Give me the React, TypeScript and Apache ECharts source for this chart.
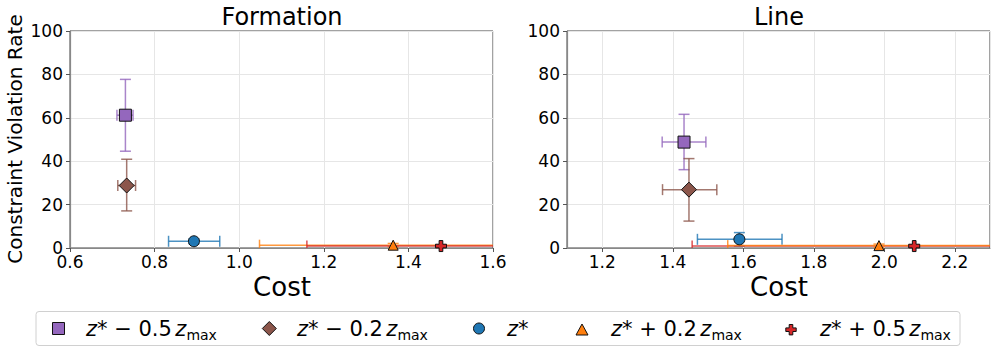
import React, { useEffect, useRef } from "react";
import * as echarts from "echarts";

// ---- data ----
const groupNames = ["z* − 0.5 zmax", "z* − 0.2 zmax", "z*", "z* + 0.2 zmax", "z* + 0.5 zmax"];
const groupColors = ["#9467bd", "#8c564b", "#1f77b4", "#ff7f0e", "#d62728"];
const panelTitles = ["Formation", "Line"];
const yTicks = [0, 20, 40, 60, 80, 100];

// Formation panel
const formationCost = [0.731, 0.734, 0.893, 1.364, 1.477];
const formationRate = [61.2, 28.8, 3.1, 1.3, 0.9];
const formationCostLow = [0.711, 0.713, 0.833, 1.048, 1.16];
const formationCostHigh = [0.749, 0.755, 0.954, 1.68, 1.794];
const formationRateLow = [44.6, 17.1, 2.0, 0.5, 0.3];
const formationRateHigh = [77.7, 40.9, 4.2, 2.1, 1.5];

// Line panel
const lineCost = [1.432, 1.446, 1.589, 1.985, 2.085];
const lineRate = [48.8, 26.9, 4.0, 1.1, 0.9];
const lineCostLow = [1.37, 1.371, 1.47, 1.556, 1.455];
const lineCostHigh = [1.494, 1.525, 1.71, 2.414, 2.715];
const lineRateLow = [36.1, 12.4, 0.9, 0.4, 0.3];
const lineRateHigh = [61.6, 41.2, 7.1, 1.8, 1.5];

const FONT = "DejaVu Sans";
const PLUS = "path://M-1,-3L1,-3L1,-1L3,-1L3,1L1,1L1,3L-1,3L-1,1L-3,1L-3,-1L-1,-1Z";
const symbols = ["rect", "diamond", "circle", "triangle", PLUS];
const symbolSizes = [12, 15, 11, 10, 11];

function errData(x: number[], y: number[], xl: number[], xh: number[], yl: number[], yh: number[], order: number[]) {
  return order.map((i) => [x[i], y[i], xl[i], xh[i], yl[i], yh[i], i]);
}

function renderErr(params: any, api: any) {
  const x = api.value(0), y = api.value(1);
  const xl = api.value(2), xh = api.value(3), yl = api.value(4), yh = api.value(5);
  const idx = api.value(6);
  const pL = api.coord([xl, y]);
  const pR = api.coord([xh, y]);
  const pB = api.coord([x, yl]);
  const pT = api.coord([x, yh]);
  const cap = 5.5;
  const style = { stroke: groupColors[idx], lineWidth: 1.5, opacity: 0.8 };
  const line = (x1: number, y1: number, x2: number, y2: number) => ({
    type: "line",
    shape: { x1, y1, x2, y2 },
    style,
  });
  return {
    type: "group",
    children: [
      line(pL[0], pL[1], pR[0], pR[1]),
      line(pL[0], pL[1] - cap, pL[0], pL[1] + cap),
      line(pR[0], pR[1] - cap, pR[0], pR[1] + cap),
      line(pB[0], pB[1], pT[0], pT[1]),
      line(pB[0] - cap, pB[1], pB[0] + cap, pB[1]),
      line(pT[0] - cap, pT[1], pT[0] + cap, pT[1]),
    ],
  };
}

function xAxisCfg(gridIndex: number, min: number, max: number, hideEnds: boolean) {
  return {
    type: "value",
    gridIndex,
    min,
    max,
    splitNumber: 5,
    axisLine: { show: true, onZero: false, lineStyle: { color: "#888", width: 1.2 } },
    axisTick: { show: true, length: 4, lineStyle: { color: "#555" } },
    axisLabel: {
      fontSize: 17,
      fontFamily: FONT,
      color: "#000",
      margin: 5,
      showMinLabel: !hideEnds,
      showMaxLabel: !hideEnds,
      formatter: (v: number) => v.toFixed(1),
    },
    splitLine: { show: true, lineStyle: { color: "#e6e6e6", width: 1 } },
  };
}

function yAxisCfg(gridIndex: number) {
  return {
    type: "value",
    gridIndex,
    min: yTicks[0],
    max: yTicks[yTicks.length - 1],
    interval: yTicks[1] - yTicks[0],
    axisLine: { show: true, onZero: false, lineStyle: { color: "#888", width: 1.2 } },
    axisTick: { show: true, length: 4, lineStyle: { color: "#555" } },
    axisLabel: { fontSize: 17, fontFamily: FONT, color: "#000", margin: 7 },
    splitLine: { show: true, lineStyle: { color: "#e6e6e6", width: 1 } },
  };
}

const legendRich = {
  i: { fontFamily: FONT, fontStyle: "italic", fontSize: 21, lineHeight: 26, verticalAlign: "middle", fill: "#000" },
  n: { fontFamily: FONT, fontSize: 21, lineHeight: 26, verticalAlign: "middle", fill: "#000" },
  t: { fontFamily: FONT, fontSize: 11, lineHeight: 26, verticalAlign: "middle", fill: "#000" },
  s: { fontFamily: FONT, fontSize: 14, lineHeight: 14, verticalAlign: "bottom", fill: "#000" },
};

function legendText(name: string) {
  if (name === "z*") return "{i|z}{n|*}";
  const m = name.match(/^z\* (.) (\S+) zmax$/);
  if (!m) return "{n|" + name + "}";
  return "{i|z}{n|* " + m[1] + " " + m[2] + "}{t| }{i|z}{s|max}";
}

export default function App() {
  const ref = useRef<HTMLDivElement>(null);
  useEffect(() => {
    if (!ref.current) return;
    const chart = echarts.init(ref.current, undefined, { renderer: "svg" });

    const series: any[] = [];
    const panels = [
      { x: formationCost, y: formationRate, xl: formationCostLow, xh: formationCostHigh, yl: formationRateLow, yh: formationRateHigh, order: [0, 1, 2, 3, 4] },
      { x: lineCost, y: lineRate, xl: lineCostLow, xh: lineCostHigh, yl: lineRateLow, yh: lineRateHigh, order: [0, 1, 2, 4, 3] },
    ];
    panels.forEach((p, pi) => {
      series.push({
        type: "custom",
        xAxisIndex: pi,
        yAxisIndex: pi,
        clip: true,
        z: 2,
        renderItem: renderErr,
        data: errData(p.x, p.y, p.xl, p.xh, p.yl, p.yh, p.order),
      });
      groupNames.forEach((name, gi) => {
        series.push({
          type: "scatter",
          name,
          xAxisIndex: pi,
          yAxisIndex: pi,
          z: 5,
          symbol: symbols[gi],
          symbolSize: symbolSizes[gi],
          itemStyle: { color: groupColors[gi], borderColor: "#111", borderWidth: 1, opacity: 1 },
          data: [[p.x[gi], p.y[gi]]],
        });
      });
    });

    const LY = 328.5;
    const legendMarkers: any[] = [
      { type: "rect", shape: { x: 52.5, y: LY - 6, width: 12, height: 12 }, style: { fill: groupColors[0], stroke: "#111", lineWidth: 1 } },
      { type: "polygon", shape: { points: [[269.3, LY - 7], [276.3, LY], [269.3, LY + 7], [262.3, LY]] }, style: { fill: groupColors[1], stroke: "#111", lineWidth: 1 } },
      { type: "circle", shape: { cx: 479, cy: LY, r: 5.5 }, style: { fill: groupColors[2], stroke: "#111", lineWidth: 1 } },
      { type: "polygon", shape: { points: [[582, LY - 4.5], [588, LY + 6.5], [576, LY + 6.5]] }, style: { fill: groupColors[3], stroke: "#111", lineWidth: 1 } },
      {
        type: "polygon",
        shape: {
          points: [
            [789.2, LY - 4], [792.8, LY - 4], [792.8, LY - 0.6], [796.2, LY - 0.6], [796.2, LY + 3], [792.8, LY + 3],
            [792.8, LY + 6.4], [789.2, LY + 6.4], [789.2, LY + 3], [785.8, LY + 3], [785.8, LY - 0.6], [789.2, LY - 0.6],
          ],
        },
        style: { fill: groupColors[4], stroke: "#111", lineWidth: 1 },
      },
    ];
    const legendX = [86, 297, 507, 611, 820];
    const legendTexts = groupNames.map((name, i) => ({
      type: "text",
      x: legendX[i],
      y: 329,
      style: { text: legendText(name), rich: legendRich, textAlign: "left", textVerticalAlign: "middle" },
    }));

    chart.setOption({
      animation: false,
      backgroundColor: "#fff",
      grid: [
        { left: 70, top: 31, width: 423, height: 217, show: true, borderColor: "#444", borderWidth: 1, backgroundColor: "transparent" },
        { left: 567, top: 31, width: 423, height: 217, show: true, borderColor: "#444", borderWidth: 1, backgroundColor: "transparent" },
      ],
      xAxis: [xAxisCfg(0, 0.6, 1.6, false), xAxisCfg(1, 1.1, 2.3, true)],
      yAxis: [yAxisCfg(0), yAxisCfg(1)],
      series,
      graphic: [
        { type: "text", x: 282, y: 17, style: { text: panelTitles[0], fontFamily: FONT, fontSize: 24, fill: "#000", textAlign: "center", textVerticalAlign: "middle" } },
        { type: "text", x: 779, y: 17, style: { text: panelTitles[1], fontFamily: FONT, fontSize: 24, fill: "#000", textAlign: "center", textVerticalAlign: "middle" } },
        { type: "text", x: 282, y: 287, style: { text: "Cost", fontFamily: FONT, fontSize: 26, fill: "#000", textAlign: "center", textVerticalAlign: "middle" } },
        { type: "text", x: 779, y: 287, style: { text: "Cost", fontFamily: FONT, fontSize: 26, fill: "#000", textAlign: "center", textVerticalAlign: "middle" } },
        { type: "text", x: 15, y: 139, rotation: Math.PI / 2, style: { text: "Constraint Violation Rate", fontFamily: FONT, fontSize: 20, fill: "#000", textAlign: "center", textVerticalAlign: "middle" } },
        { type: "rect", shape: { x: 36, y: 311.5, width: 924, height: 34, r: 3 }, style: { fill: "#fff", stroke: "#d0d0d0", lineWidth: 1 }, z: 0 },
        ...legendMarkers,
        ...legendTexts,
      ],
    });
    return () => chart.dispose();
  }, []);
  return <div ref={ref} style={{ position: "fixed", left: 0, top: 0, width: 997, height: 353 }} />;
}
